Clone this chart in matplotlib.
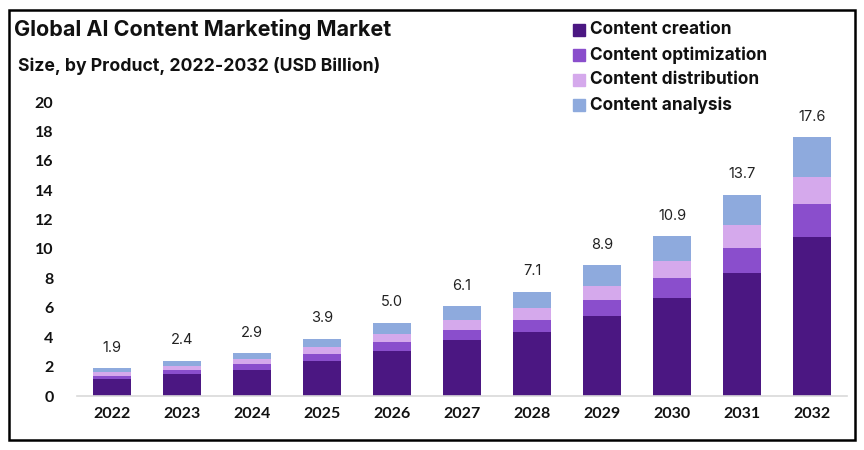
import matplotlib.pyplot as plt
from matplotlib.patches import Rectangle
import numpy as np

# Market size by product, USD billion
years = ["2022", "2023", "2024", "2025", "2026", "2027", "2028", "2029", "2030", "2031", "2032"]
creation = [1.15, 1.5, 1.8, 2.4, 3.05, 3.8, 4.35, 5.45, 6.7, 8.4, 10.8]
optimization = [0.22, 0.3, 0.4, 0.45, 0.6, 0.7, 0.85, 1.1, 1.3, 1.7, 2.25]
distribution = [0.23, 0.25, 0.3, 0.45, 0.55, 0.65, 0.8, 0.95, 1.2, 1.5, 1.85]
analysis = [0.3, 0.35, 0.4, 0.6, 0.8, 0.95, 1.1, 1.4, 1.7, 2.1, 2.7]
totals = ["1.9", "2.4", "2.9", "3.9", "5.0", "6.1", "7.1", "8.9", "10.9", "13.7", "17.6"]

series = [
    ("Content creation", creation, "#4b1782"),
    ("Content optimization", optimization, "#8a4ecc"),
    ("Content distribution", distribution, "#d5a9ec"),
    ("Content analysis", analysis, "#8eaadd"),
]

title_font = "Inter"
tick_font = "Lato"

fig = plt.figure(figsize=(8.64, 4.5), dpi=100)
ax = fig.add_axes([77 / 864, 54 / 450, 770 / 864, 294 / 450])

x = np.arange(len(years))
bottom = np.zeros(len(years))
for name, vals, color in series:
    ax.bar(x, vals, width=0.55, bottom=bottom, color=color, label=name, zorder=2)
    bottom += np.array(vals)

for xi, top, lab in zip(x, bottom, totals):
    ax.text(xi, top + 0.9, lab, ha="center", va="bottom", fontsize=10.5,
            family=title_font, color="#222222", clip_on=False)

ax.set_xlim(-0.5, len(years) - 0.5)
ax.set_ylim(0, 20)
ax.set_yticks(range(0, 21, 2))
ax.set_xticks(x)
ax.set_xticklabels(years)
for spine in ["top", "right", "left"]:
    ax.spines[spine].set_visible(False)
ax.spines["bottom"].set_color("#d9d9d9")
ax.spines["bottom"].set_linewidth(1.2)
ax.tick_params(axis="both", length=0)
ax.tick_params(axis="y", pad=17)
ax.tick_params(axis="x", pad=8)
for lab in ax.get_yticklabels() + ax.get_xticklabels():
    lab.set_fontfamily(tick_font)
    lab.set_fontweight("bold")
    lab.set_fontsize(11.5)
    lab.set_color("#111111")

# Titles
fig.text(14 / 864, 1 - 30 / 450, "Global AI Content Marketing Market", ha="left", va="center",
         fontsize=15.5, fontweight="bold", family=title_font, color="#111111")
fig.text(18 / 864, 1 - 66 / 450, "Size, by Product, 2022-2032 (USD Billion)", ha="left", va="center",
         fontsize=12.7, fontweight="bold", family=title_font, color="#111111")

# Legend
for i, (name, vals, color) in enumerate(series):
    yc = 1 - (30 + 25 * i) / 450
    fig.patches.append(Rectangle((573 / 864, yc - 6 / 450), 12 / 864, 12 / 450,
                                 transform=fig.transFigure, color=color))
    fig.text(590 / 864, yc, name, ha="left", va="center", fontsize=12.4,
             fontweight="bold", family=title_font, color="#111111")

# Frame around the whole picture
fig.patches.append(Rectangle((9 / 864, 1 - 440 / 450), 846 / 864, 430 / 450,
                             transform=fig.transFigure, fill=False, edgecolor="black", linewidth=1.8))

fig.savefig("out.png", dpi=100)
